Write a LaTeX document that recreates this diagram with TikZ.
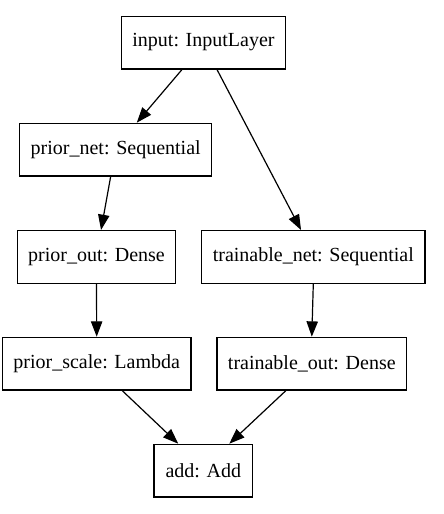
\documentclass[tikz,border=0pt]{standalone}
\usepackage{fontspec}
\setmainfont{Liberation Serif}
\usetikzlibrary{arrows.meta}
\begin{document}
\begin{tikzpicture}[x=0.75pt,y=-0.75pt,
  layer/.style={draw=black,line width=1pt,fill=white,inner sep=0pt,
    font=\fontsize{15pt}{17pt}\selectfont,minimum height=39.5pt},
  conn/.style={line width=0.9pt,-{Triangle[length=11.5pt,width=8.5pt]}}]
\useasboundingbox (0,0) rectangle (443,514);
\node[layer,minimum width=123pt] (input) at (203.5,42.5) {input: InputLayer};
\node[layer,minimum width=144pt] (pnet) at (115.7,149.7) {prior\_net: Sequential};
\node[layer,minimum width=118.8pt] (pout) at (96.5,257) {prior\_out: Dense};
\node[layer,minimum width=167.5pt] (tnet) at (313.3,257) {trainable\_net: Sequential};
\node[layer,minimum width=141.5pt] (pscale) at (96.7,363.7) {prior\_scale: Lambda};
\node[layer,minimum width=142pt] (tout) at (311.8,363.7) {trainable\_out: Dense};
\node[layer,minimum width=74pt] (add) at (203.3,470.7) {add: Add};
\draw[conn] ([xshift=-16.1pt]input.south) -- ([xshift=15.8pt]pnet.north);
\draw[conn] ([xshift=10.1pt]input.south) -- ([xshift=-9.2pt]tnet.north);
\draw[conn] ([xshift=-3.8pt]pnet.south) -- ([xshift=3.4pt]pout.north);
\draw[conn] (pout.south) -- (pscale.north);
\draw[conn] (tnet.south) -- (tout.north);
\draw[conn] ([xshift=19.2pt]pscale.south) -- ([xshift=-18.8pt]add.north);
\draw[conn] ([xshift=-19.5pt]tout.south) -- ([xshift=19.5pt]add.north);
\end{tikzpicture}
\end{document}
